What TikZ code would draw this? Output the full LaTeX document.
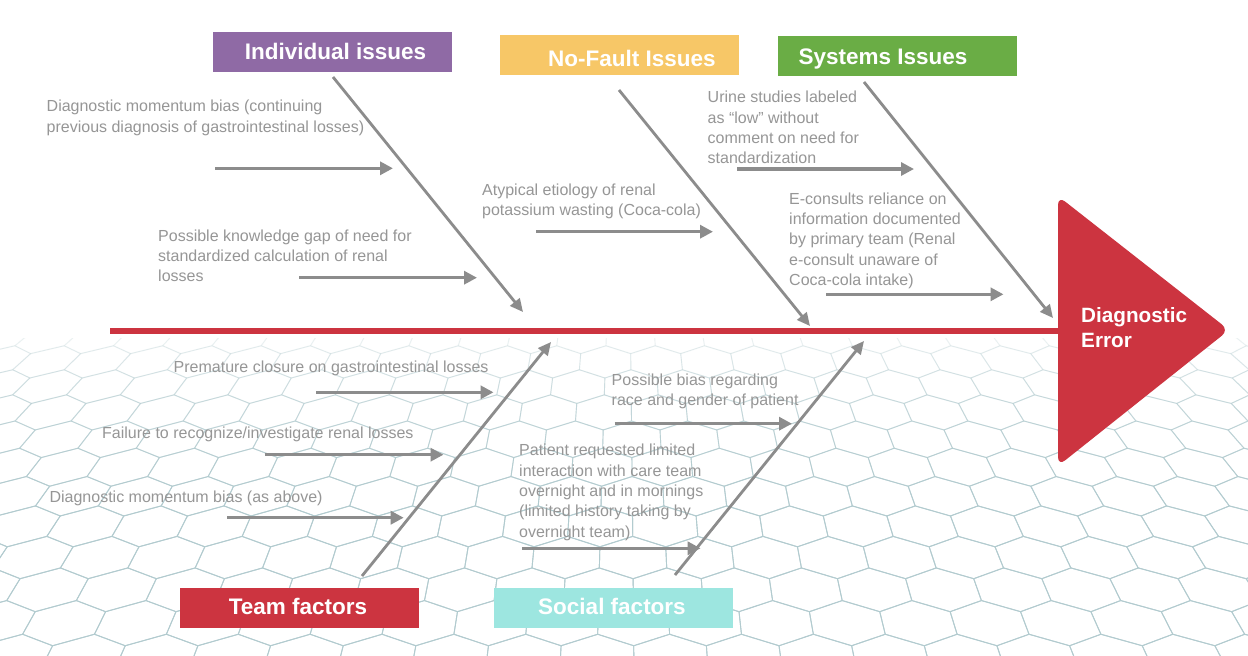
\documentclass[tikz,border=0pt]{standalone}
\usepackage{fontspec}
\setmainfont{Liberation Sans}
\usetikzlibrary{arrows.meta}
\definecolor{fbred}{RGB}{204,52,64}
\definecolor{indcol}{RGB}{143,106,165}
\definecolor{nfcol}{RGB}{247,199,103}
\definecolor{syscol}{RGB}{106,173,69}
\definecolor{soccol}{RGB}{157,230,224}
\definecolor{txtgray}{RGB}{150,150,150}
\definecolor{bonegray}{RGB}{140,140,140}
\definecolor{meshcol}{RGB}{178,203,207}
\newcommand\hexmapuv[3]{%
  \pgfmathsetmacro\hmu{#1}%
  \pgfmathsetmacro\hmv{#2}%
  \pgfmathsetmacro\hmx{624+(\hmu-624)*(1+\hmv/900)}%
  \pgfmathsetmacro\hmy{338+0.55*(\hmv+(\hmv/30)*(\hmv/60))}%
  \coordinate (#3) at (\hmx,\hmy);}
\begin{document}
\begin{tikzpicture}[x=1pt,y=-1pt,
  cause/.style={anchor=north west, inner sep=0pt, align=left, text=txtgray, font=\fontsize{16}{20.3}\selectfont},
  headtxt/.style={inner sep=0pt, text=white, font=\fontsize{22.5}{27}\selectfont\bfseries, anchor=base},
  catbox/.style={inner sep=0pt, anchor=north west, minimum width=239pt, minimum height=40pt},
  bone/.style={draw=bonegray, line width=2.8pt, -{Triangle[length=13pt,width=12pt]}},
  twig/.style={draw=bonegray, line width=3.2pt, -{Triangle[length=13pt,width=13pt]}},
  mesh/.style={draw=meshcol, line width=0.9pt, line join=round}]
\useasboundingbox (0,0) rectangle (1248,656);
\fill[white] (0,0) rectangle (1248,656);
% background hexagon mesh (mild perspective)
\begin{scope}
\clip (0,338) rectangle (1248,656);
\foreach \j in {0,...,12}{
  \pgfmathsetmacro\op{min(1,0.15+0.13*\j)}
  \foreach \i in {-1,...,27}{
    \pgfmathsetmacro\uc{\i*48.5+mod(\j,2)*24.25}
    \pgfmathsetmacro\vc{\j*42}
    \hexmapuv{\uc}{\vc-28}{h1}
    \hexmapuv{\uc+24.25}{\vc-14}{h2}
    \hexmapuv{\uc+24.25}{\vc+14}{h3}
    \hexmapuv{\uc}{\vc+28}{h4}
    \hexmapuv{\uc-24.25}{\vc+14}{h5}
    \hexmapuv{\uc-24.25}{\vc-14}{h6}
    \draw[mesh, opacity=\op] (h1) -- (h2) -- (h3) -- (h4) -- (h5) -- (h6) -- cycle;
  }
}
\end{scope}
% spine and head
\coordinate (sp0) at (110,331);
\coordinate (headL) at (1060,331);
\draw[fbred, line width=6pt] (sp0) -- (headL);
\fill[fbred, rounded corners=9pt] (1058,196) -- (1229,330) -- (1058,466) -- cycle;
\node[anchor=north west, inner sep=0pt, text=white, align=left, font=\fontsize{20.7}{25}\selectfont\bfseries] (effect) at (1081,307) {Diagnostic\\Error};
% category boxes
\node[catbox, fill=indcol] (indbox) at (213,32) {};
\node[headtxt] (indtxt) at (335.5,59.3) {Individual issues};
\node[catbox, fill=nfcol] (nfbox) at (500,35) {};
\node[headtxt] (nftxt) at (632,66.5) {No-Fault Issues};
\node[catbox, fill=syscol] (sysbox) at (778,36) {};
\node[headtxt] (systxt) at (883,64) {Systems Issues};
\node[catbox, fill=fbred] (teambox) at (180,588) {};
\node[headtxt] (teamtxt) at (298,614) {Team factors};
\node[catbox, fill=soccol] (socbox) at (494,588) {};
\node[headtxt] (soctxt) at (612,614) {Social factors};
% bones
\coordinate (ib0) at (333,77);   \coordinate (ib1) at (523,312);
\coordinate (nb0) at (619,90);   \coordinate (nb1) at (810,326);
\coordinate (sb0) at (864,82);   \coordinate (sb1) at (1053,318);
\coordinate (tb0) at (362,576);  \coordinate (tb1) at (551,342);
\coordinate (ob0) at (675,575);  \coordinate (ob1) at (864,341);
\draw[bone] (ib0) -- (ib1);
\draw[bone] (nb0) -- (nb1);
\draw[bone] (sb0) -- (sb1);
\draw[bone] (tb0) -- (tb1);
\draw[bone] (ob0) -- (ob1);
% causes: individual
\node[cause] (c1) at (46.5,100) {Diagnostic momentum bias (continuing\\previous diagnosis of gastrointestinal losses)};
\coordinate (a1s) at (215,168.3); \coordinate (a1e) at (393,168.3);
\draw[twig] (a1s) -- (a1e);
\node[cause] (c2) at (158,229.5) {Possible knowledge gap of need for\\standardized calculation of renal\\losses};
\coordinate (a2s) at (299,277.7); \coordinate (a2e) at (477,277.7);
\draw[twig] (a2s) -- (a2e);
% no-fault
\node[cause] (c3) at (482,183.5) {Atypical etiology of renal\\potassium wasting (Coca-cola)};
\coordinate (a3s) at (536,231.7); \coordinate (a3e) at (713,231.7);
\draw[twig] (a3s) -- (a3e);
% systems
\node[cause] (c4) at (707.5,91.2) {Urine studies labeled\\as “low” without\\comment on need for\\standardization};
\coordinate (a4s) at (737,169); \coordinate (a4e) at (914,169);
\draw[twig] (a4s) -- (a4e);
\node[cause] (c5) at (789,192.5) {E-consults reliance on\\information documented\\by primary team (Renal\\e-consult unaware of\\Coca-cola intake)};
\coordinate (a5s) at (826,294.3); \coordinate (a5e) at (1003.5,294.3);
\draw[twig] (a5s) -- (a5e);
% team
\node[cause] (c6) at (173.5,361) {Premature closure on gastrointestinal losses};
\coordinate (a6s) at (316,392.3); \coordinate (a6e) at (493.5,392.3);
\draw[twig] (a6s) -- (a6e);
\node[cause] (c7) at (102,426.7) {Failure to recognize/investigate renal losses};
\coordinate (a7s) at (265,454.7); \coordinate (a7e) at (443.5,454.7);
\draw[twig] (a7s) -- (a7e);
\node[cause] (c8) at (49.4,490.5) {Diagnostic momentum bias (as above)};
\coordinate (a8s) at (227,517.7); \coordinate (a8e) at (403.7,517.7);
\draw[twig] (a8s) -- (a8e);
% social
\node[cause] (c9) at (611.5,373.4) {Possible bias regarding\\race and gender of patient};
\coordinate (a9s) at (614.6,423.7); \coordinate (a9e) at (792,423.7);
\draw[twig] (a9s) -- (a9e);
\node[cause] (c10) at (519,444.1) {Patient requested limited\\interaction with care team\\overnight and in mornings\\(limited history taking by\\overnight team)};
\coordinate (a10s) at (522,548.3); \coordinate (a10e) at (700.6,548.3);
\draw[twig] (a10s) -- (a10e);
\end{tikzpicture}
\end{document}
